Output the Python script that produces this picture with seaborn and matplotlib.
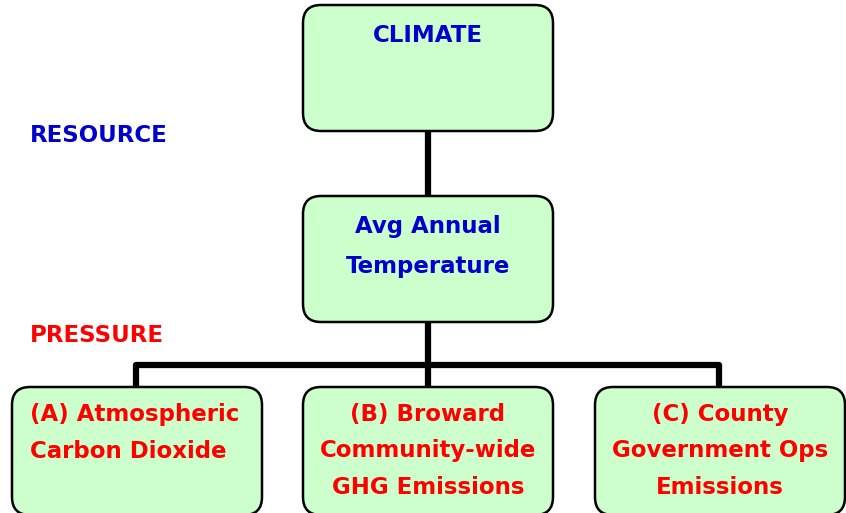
import matplotlib.pyplot as plt
import seaborn as sns
from matplotlib.patches import FancyBboxPatch

# diagram content
resource_box = ["CLIMATE"]
indicator_box = ["Avg Annual", "Temperature"]
pressure_boxes = [
    ["(A) Atmospheric", "Carbon Dioxide"],
    ["(B) Broward", "Community-wide", "GHG Emissions"],
    ["(C) County", "Government Ops", "Emissions"],
]
side_labels = ["RESOURCE", "PRESSURE"]

# layout (pixel coordinates, y downward)
box_w, box_h = 250, 126
top_box = (303, 5)
mid_box = (303, 196)
bottom_boxes = [(12, 387), (303, 387), (595, 387)]
branch_y = 365

fill = "#ccffcc"
blue = "#0000cc"
red = "#ff0000"

sns.set_theme(style="white")
plt.rcParams['font.family'] = ['DejaVu Sans']

fig = plt.figure(figsize=(8.46, 5.13), dpi=100)
ax = fig.add_axes([0, 0, 1, 1])
ax.set_xlim(0, 846)
ax.set_ylim(513, 0)
ax.axis('off')


def draw_box(x, y, h=box_h):
    ax.add_patch(FancyBboxPatch((x + 18, y + 18), box_w - 36, h - 36,
                                boxstyle="round,pad=18",
                                facecolor=fill, edgecolor="black",
                                linewidth=1.8, zorder=2, clip_on=True))


# connectors
mid_x = mid_box[0] + box_w / 2
centers = [bx + box_w / 2 - 1 for bx, _ in bottom_boxes]
lines = [
    ([mid_x, mid_x], [top_box[1] + box_h, mid_box[1]]),
    ([mid_x, mid_x], [mid_box[1] + box_h, bottom_boxes[1][1]]),
    ([centers[0], centers[0], centers[2], centers[2]],
     [bottom_boxes[0][1], branch_y, branch_y, bottom_boxes[2][1]]),
]
for xs, ys in lines:
    sns.lineplot(x=xs, y=ys, sort=False, estimator=None, color="black",
                 linewidth=4.5, ax=ax, zorder=1)

draw_box(*top_box)
draw_box(*mid_box)
# bottom row runs just past the lower edge of the picture
for bx, by in bottom_boxes:
    draw_box(bx, by, h=box_h + 2)

font = dict(fontsize=16.5, fontweight="bold", zorder=3)

ax.text(mid_x, 35, resource_box[0], color=blue, ha="center", va="center", **font)
for i, line in enumerate(indicator_box):
    ax.text(mid_x, 226 + i * 40, line, color=blue, ha="center", va="center", **font)

# (A) is left aligned, the others centered
for i, line in enumerate(pressure_boxes[0]):
    ax.text(30, 414 + i * 37, line, color=red, ha="left", va="center", **font)
for (bx, by), box in zip(bottom_boxes[1:], pressure_boxes[1:]):
    for i, line in enumerate(box):
        ax.text(bx + box_w / 2, 414 + i * 37, line, color=red,
                ha="center", va="center", **font)

ax.text(30, 136, side_labels[0], color=blue, ha="left", va="center", **font)
ax.text(30, 335, side_labels[1], color=red, ha="left", va="center", **font)

fig.savefig("out.png", dpi=100)
